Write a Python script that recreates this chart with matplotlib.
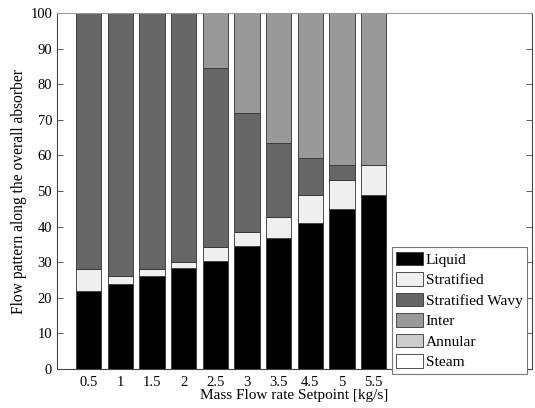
import numpy as np
import matplotlib.pyplot as plt

plt.rcParams['font.family'] = ['Liberation Serif', 'DejaVu Serif']

setpoints = ["0.5", "1", "1.5", "2", "2.5", "3", "3.5", "4.5", "5", "5.5"]
liquid = [22.0, 24.0, 26.0, 28.3, 30.3, 34.5, 36.7, 40.9, 44.9, 49.0]
stratified = [6.0, 2.0, 2.0, 1.8, 4.1, 4.0, 6.0, 7.9, 8.1, 8.3]
strat_wavy = [72.0, 74.0, 72.0, 69.9, 50.1, 33.4, 20.8, 10.6, 4.4, 0.0]
inter = [0.0, 0.0, 0.0, 0.0, 15.5, 28.1, 36.5, 40.6, 42.6, 42.7]
annular = [0.0] * 10
steam = [0.0] * 10

series = [liquid, stratified, strat_wavy, inter, annular, steam]
names = ["Liquid", "Stratified", "Stratified Wavy", "Inter", "Annular", "Steam"]
colors = ["#000000", "#efefef", "#666666", "#999999", "#cccccc", "#ffffff"]

fig = plt.figure(figsize=(5.35, 4.08), dpi=100)
ax = fig.add_axes([57 / 535, 1 - 369 / 408, 475 / 535, 356 / 408])

x = np.arange(1, len(setpoints) + 1)
bottom = np.zeros(len(setpoints))
for vals, name, c in zip(series, names, colors):
    ax.bar(x, vals, width=0.8, bottom=bottom, color=c, edgecolor="#333333",
           linewidth=0.6, label=name)
    bottom += np.array(vals)

ax.set_xlim(0, 15)
ax.set_ylim(0, 100)
ax.set_xticks(x)
ax.set_xticklabels(setpoints)
ax.set_yticks(np.arange(0, 101, 10))
ax.tick_params(direction="in", length=4, labelsize=10.5, top=False, right=True,
               width=0.6, color="#444444")
ax.tick_params(axis="x", length=0, pad=5)
for s in ax.spines.values():
    s.set_linewidth(0.8)
    s.set_color("#444444")
ax.spines["top"].set_color("#999999")

ax.set_xlabel("Mass Flow rate Setpoint [kg/s]", fontsize=11, labelpad=0)
ax.set_ylabel("Flow pattern along the overall absorber", fontsize=11.2, labelpad=2)

leg = ax.legend(loc="lower right", bbox_to_anchor=(527 / 535, 1 - 374 / 408),
                bbox_transform=fig.transFigure, fontsize=11.1, frameon=True,
                fancybox=False, borderaxespad=0, handlelength=1.75,
                handleheight=0.95, labelspacing=0.36, handletextpad=0.15,
                borderpad=0.3)
leg.get_frame().set_edgecolor("#777777")
leg.get_frame().set_linewidth(0.8)
leg.get_frame().set_alpha(1)

fig.savefig("out.png", dpi=100)
